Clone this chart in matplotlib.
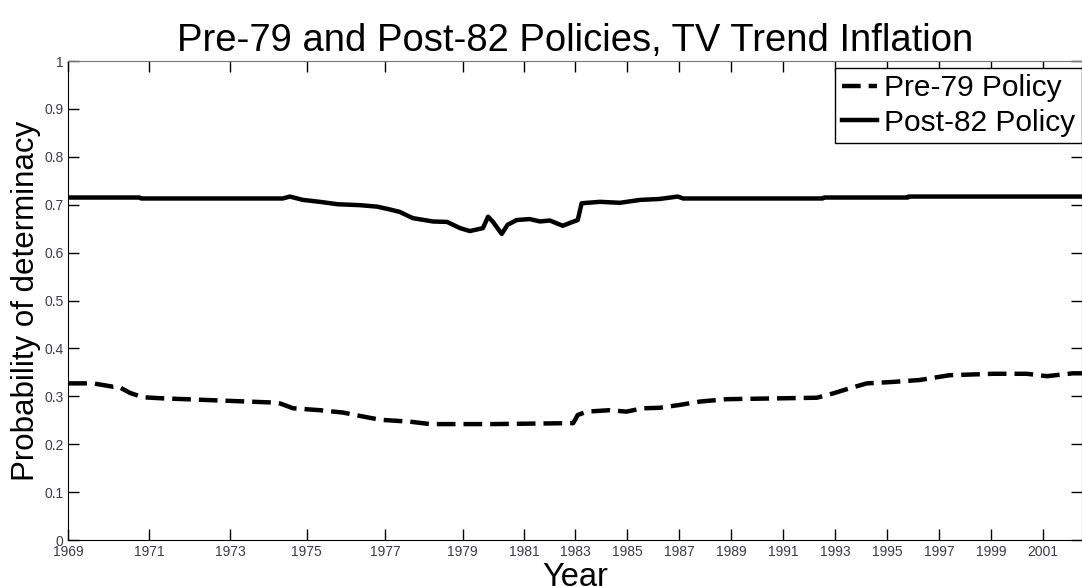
import numpy as np
import matplotlib
matplotlib.use("Agg")
import matplotlib.pyplot as plt

plt.rcParams['font.family'] = ['Liberation Sans', 'DejaVu Sans']

# x is the observation index; the dates are unevenly spaced before 1983
year_labels = ['1969', '1971', '1973', '1975', '1977', '1979', '1981', '1983', '1985',
               '1987', '1989', '1991', '1993', '1995', '1997', '1999', '2001']
year_obs = [0, 12.4, 24.9, 36.7, 48.8, 60.7, 70.2, 78, 86, 94, 102, 110, 118, 126, 134, 142, 150]
n_obs = 156

post82_obs = [0, 11.0, 11.2, 33.0, 34.1, 36.1, 38.7, 41.4, 44.9, 47.5, 49.5, 51.0, 53.0,
              56.1, 58.3, 60.3, 61.8, 63.8, 64.6, 65.3, 66.7, 67.6, 69.0, 71.0, 72.6,
              74.1, 76.1, 77.2, 78.4, 79.0, 81.8, 84.9, 88.0, 91.0, 93.8, 94.6, 116.1,
              116.3, 129.2, 129.3, 156]
post82 = [0.715, 0.715, 0.713, 0.713, 0.717, 0.710, 0.706, 0.701, 0.699, 0.696, 0.690,
          0.685, 0.672, 0.665, 0.664, 0.651, 0.645, 0.651, 0.675, 0.665, 0.639, 0.658,
          0.668, 0.670, 0.665, 0.667, 0.656, 0.662, 0.668, 0.703, 0.706, 0.704, 0.710,
          0.712, 0.717, 0.713, 0.713, 0.715, 0.715, 0.717, 0.717]

pre79_obs = [0, 3.8, 6.9, 7.6, 9.5, 11.5, 14.1, 31.5, 32.6, 34.6, 38.7, 42.3, 44.9, 48.0,
             52.6, 55.7, 65.3, 77.7, 78.4, 79.8, 83.3, 85.9, 88.4, 91.0, 94.1, 97.2,
             101.3, 115.2, 117.7, 120.3, 122.9, 126.9, 131.0, 135.6, 142.3, 147.5,
             150.6, 154.6, 156]
pre79 = [0.327, 0.327, 0.320, 0.321, 0.307, 0.298, 0.296, 0.287, 0.285, 0.275, 0.271,
         0.266, 0.259, 0.251, 0.247, 0.242, 0.242, 0.244, 0.261, 0.268, 0.271, 0.268,
         0.275, 0.276, 0.282, 0.289, 0.294, 0.297, 0.306, 0.317, 0.327, 0.330, 0.334,
         0.344, 0.347, 0.347, 0.342, 0.348, 0.348]

fig = plt.figure(figsize=(10.82, 5.86), dpi=100)
ax = fig.add_axes([68.3 / 1082, 46 / 586, (1082 - 68.3) / 1082, (540 - 61) / 586])

ax.plot(pre79_obs, pre79, color='black', lw=3.2, linestyle=(0, (4.2, 1.8)), label='Pre-79 Policy')
ax.plot(post82_obs, post82, color='black', lw=3.2, label='Post-82 Policy')

ax.set_xlim(0, n_obs)
ax.set_ylim(0, 1)
ax.set_xticks(year_obs)
ax.set_xticklabels(year_labels)
yt = np.round(np.arange(0, 1.01, 0.1), 1)
ax.set_yticks(yt)
ax.set_yticklabels(['0' if v == 0 else '1' if v == 1 else '%.1f' % v for v in yt])
ax.tick_params(direction='in', length=8, width=1, top=True, right=True,
               labelsize=10, labelcolor='#3a3a4a', pad=3.5)
ax.spines['top'].set_color('#777777')

ax.set_title('Pre-79 and Post-82 Policies, TV Trend Inflation', fontsize=27.5, pad=7)
ax.set_xlabel('Year', fontsize=23.5)
ax.xaxis.label.set_va('baseline')
ax.xaxis.set_label_coords(0.5, -0.095)
ax.set_ylabel('Probability of determinacy', fontsize=22.5, labelpad=2)

leg = ax.legend(loc='upper left', bbox_to_anchor=(835 / 1082, 1 - 67.7 / 586),
                bbox_transform=fig.transFigure, borderaxespad=0, fontsize=21.5,
                handlelength=1.2, handletextpad=0.22, borderpad=0.22, labelspacing=0.22,
                fancybox=False, framealpha=1, edgecolor='black')
leg.get_frame().set_linewidth(1)

fig.savefig('out.png', dpi=100)
